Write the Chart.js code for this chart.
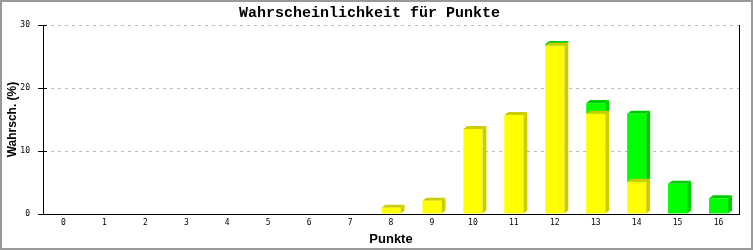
<!DOCTYPE html>
<html>
<head>
<meta charset="utf-8">
<script src="https://cdn.jsdelivr.net/npm/chart.js@4/dist/chart.umd.min.js"></script>
<style>
  html, body { margin: 0; padding: 0; background: #fff; }
  #wrap { width: 753px; height: 250px; }
</style>
</head>
<body>
<div id="wrap"><canvas id="c" width="753" height="250"></canvas></div>
<script>
// Punkte 0..16 and the probability (%) of each, split into two stacked parts
const punkte = ['0','1','2','3','4','5','6','7','8','9','10','11','12','13','14','15','16'];
const gelb  = [0, 0, 0, 0, 0, 0, 0, 0, 1.0, 2.1, 13.5, 15.7, 26.7, 15.9, 5.1, 0, 0];
const gruen = [0, 0, 0, 0, 0, 0, 0, 0, 0, 0, 0, 0, 0.3, 1.7, 10.8, 4.8, 2.5];
const yTicks = [0, 10, 20, 30];

const DX = 4, DY = 3; // depth of the 3D bars

// Background and outer frame
const frame = {
  id: 'frame',
  beforeDraw(chart) {
    const ctx = chart.ctx;
    ctx.save();
    ctx.fillStyle = '#ffffff';
    ctx.fillRect(0, 0, chart.width, chart.height);
    ctx.strokeStyle = '#999999';
    ctx.lineWidth = 2;
    ctx.strokeRect(1, 1, chart.width - 2, chart.height - 2);
    ctx.restore();
  },
  afterDraw(chart) {
    const ctx = chart.ctx;
    const a = chart.chartArea;
    const y = chart.scales.y;
    ctx.save();
    ctx.strokeStyle = '#000';
    ctx.lineWidth = 1;
    // right edge of plot
    ctx.beginPath();
    ctx.moveTo(Math.round(a.right) + 0.5, a.top);
    ctx.lineTo(Math.round(a.right) + 0.5, a.bottom);
    ctx.stroke();
    // inner part of the y tick marks
    yTicks.forEach(v => {
      const py = Math.round(y.getPixelForValue(v)) + 0.5;
      ctx.beginPath();
      ctx.moveTo(a.left, py);
      ctx.lineTo(a.left + 4, py);
      ctx.stroke();
    });
    ctx.restore();
  }
};

// Side and top faces drawn behind each dataset's front faces
const depth = {
  id: 'depth',
  beforeDatasetDraw(chart, args) {
    const meta = args.meta;
    const ds = chart.data.datasets[args.index];
    const ctx = chart.ctx;
    ctx.save();
    ctx.fillStyle = ds.sideColor;
    meta.data.forEach(bar => {
      const p = bar.getProps(['x', 'y', 'base', 'width'], true);
      if (Math.abs(p.base - p.y) < 0.5) return;
      const l = p.x - p.width / 2, r = p.x + p.width / 2;
      const top = Math.min(p.y, p.base), bot = Math.max(p.y, p.base);
      // right side
      ctx.beginPath();
      ctx.moveTo(r, top);
      ctx.lineTo(r + DX, top - DY);
      ctx.lineTo(r + DX, bot - DY);
      ctx.lineTo(r, bot);
      ctx.closePath();
      ctx.fill();
      // top
      ctx.beginPath();
      ctx.moveTo(l, top);
      ctx.lineTo(l + DX, top - DY);
      ctx.lineTo(r + DX, top - DY);
      ctx.lineTo(r, top);
      ctx.closePath();
      ctx.fill();
    });
    ctx.restore();
  }
};

new Chart(document.getElementById('c'), {
  type: 'bar',
  data: {
    labels: punkte,
    datasets: [
      { data: gelb,  backgroundColor: '#ffff00', sideColor: '#cccc00', borderWidth: 0 },
      { data: gruen, backgroundColor: '#00ff00', sideColor: '#00cc00', borderWidth: 0 }
    ]
  },
  plugins: [frame, depth],
  options: {
    responsive: false,
    animation: false,
    devicePixelRatio: 1,
    layout: { padding: { left: 0, right: 14, top: 0, bottom: 0 } },
    datasets: { bar: { categoryPercentage: 1, barPercentage: 0.465 } },
    plugins: {
      legend: { display: false },
      tooltip: { enabled: false },
      title: {
        display: true,
        text: 'Wahrscheinlichkeit für Punkte',
        color: '#000',
        font: { family: 'Liberation Mono', size: 15, weight: 'bold' },
        padding: { top: 4, bottom: 3 }
      }
    },
    scales: {
      x: {
        stacked: true,
        afterFit(scale) { scale.height = 36; },
        grid: { display: false, drawTicks: false, tickLength: 0 },
        border: { display: true, color: '#000', width: 1 },
        ticks: { color: '#000', font: { family: 'DejaVu Sans Mono', size: 8 }, padding: 4, maxRotation: 0 },
        title: {
          display: true, text: 'Punkte', color: '#000',
          font: { family: 'Liberation Sans', size: 13, weight: 'bold' },
          padding: { top: 0, bottom: 3 }
        }
      },
      y: {
        stacked: true,
        min: 0, max: 30,
        afterFit(scale) { scale.width = 43; },
        afterBuildTicks(scale) { scale.ticks = yTicks.map(v => ({ value: v })); },
        grid: {
          color: '#bbbbbb', lineWidth: 1,
          tickColor: '#000', tickLength: 5, tickWidth: 1
        },
        border: { display: true, color: '#000', width: 1, dash: [3, 4] },
        ticks: { color: '#000', font: { family: 'DejaVu Sans Mono', size: 8 }, padding: 8 },
        title: {
          display: true, text: 'Wahrsch. (%)', color: '#000',
          font: { family: 'Liberation Sans', size: 12, weight: 'bold' },
          padding: { top: 5, bottom: 0 }
        }
      }
    }
  }
});
</script>
</body>
</html>
